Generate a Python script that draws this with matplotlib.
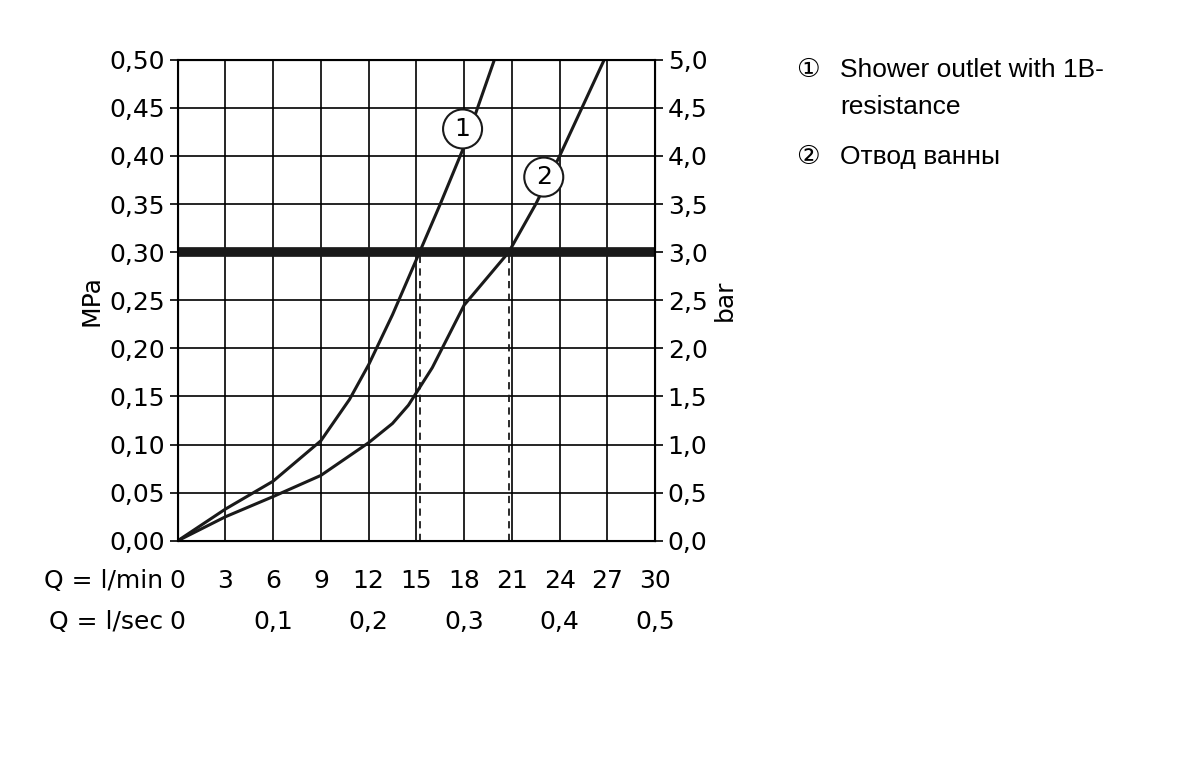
import matplotlib
matplotlib.use('Agg')
import matplotlib.pyplot as plt

# flow in l/min, pressure in MPa
q1 = [0, 3, 6, 9, 10.8, 12, 13.5, 15.2, 16.5, 18, 19.9]
p1 = [0, 0.033, 0.062, 0.104, 0.147, 0.183, 0.235, 0.30, 0.35, 0.41, 0.50]
q2 = [0, 3, 6, 9, 12, 13.5, 14.5, 16, 18, 20.8, 22.5, 24, 26.8]
p2 = [0, 0.025, 0.046, 0.068, 0.102, 0.122, 0.141, 0.18, 0.245, 0.30, 0.35, 0.40, 0.50]
lmin_ticks = [0, 3, 6, 9, 12, 15, 18, 21, 24, 27, 30]
lsec_labels = ['0', '0,1', '0,2', '0,3', '0,4', '0,5']
mpa_ticks = [0.00, 0.05, 0.10, 0.15, 0.20, 0.25, 0.30, 0.35, 0.40, 0.45, 0.50]
ref_p = 0.30
ref_q = [15.2, 20.8]

fig = plt.figure(figsize=(12, 7.65), dpi=100)
ax = fig.add_axes([0.148, 0.293, 0.398, 0.629])
fs = 18

ax.set_xlim(0, 30)
ax.set_ylim(0, 0.5)
ax.set_xticks(lmin_ticks)
ax.set_yticks(mpa_ticks)
ax.grid(True, color='black', linewidth=1.2)
ax.set_axisbelow(True)
for s in ax.spines.values():
    s.set_linewidth(1.5)
ax.set_xticklabels([])
ax.set_yticklabels([f'{v:.2f}'.replace('.', ',') for v in mpa_ticks], fontsize=fs)
ax.tick_params(axis='y', length=6, width=1.2, pad=3)
ax.tick_params(axis='x', length=0)
ax.set_ylabel('MPa', fontsize=fs, labelpad=4)

ax2 = ax.twinx()
ax2.set_ylim(0, 5)
ax2.set_yticks([v * 10 for v in mpa_ticks])
ax2.set_yticklabels([f'{v * 10:.1f}'.replace('.', ',') for v in mpa_ticks], fontsize=fs)
ax2.tick_params(axis='y', length=6, width=1.2, pad=3)
ax2.set_ylabel('bar', fontsize=fs, labelpad=4)

ax.plot(q1, p1, color='#1a1a1a', linewidth=2.2)
ax.plot(q2, p2, color='#1a1a1a', linewidth=2.2)
ax.axhline(ref_p, color='#1a1a1a', linewidth=7)
for q in ref_q:
    ax.plot([q, q], [0, ref_p], color='#1a1a1a', linewidth=1.3, linestyle=(0, (4, 3)))

for txt, x, y in [('1', 17.9, 0.428), ('2', 23.0, 0.378)]:
    ax.text(x, y, txt, fontsize=fs, ha='center', va='center',
            bbox=dict(boxstyle='circle,pad=0.3', fc='white', ec='#1a1a1a', lw=1.5))

# bottom scale rows
for q in lmin_ticks:
    ax.text(q, -0.042, str(q), fontsize=fs, ha='center', va='center')
for i, lab in enumerate(lsec_labels):
    ax.text(i * 6, -0.084, lab, fontsize=fs, ha='center', va='center')
ax.text(-0.9, -0.042, 'Q = l/min', fontsize=fs, ha='right', va='center')
ax.text(-0.9, -0.084, 'Q = l/sec', fontsize=fs, ha='right', va='center')

lf = 19
fig.text(0.663, 0.908, '\u2460', fontsize=lf, va='center', family=['DejaVu Sans'])
fig.text(0.700, 0.908, 'Shower outlet with 1B-', fontsize=lf, va='center', family='Liberation Sans')
fig.text(0.700, 0.860, 'resistance', fontsize=lf, va='center', family='Liberation Sans')
fig.text(0.663, 0.795, '\u2461', fontsize=lf, va='center', family=['DejaVu Sans'])
fig.text(0.700, 0.795, 'Отвод ванны', fontsize=lf, va='center', family='Liberation Sans')

fig.savefig('out.png', dpi=100)
